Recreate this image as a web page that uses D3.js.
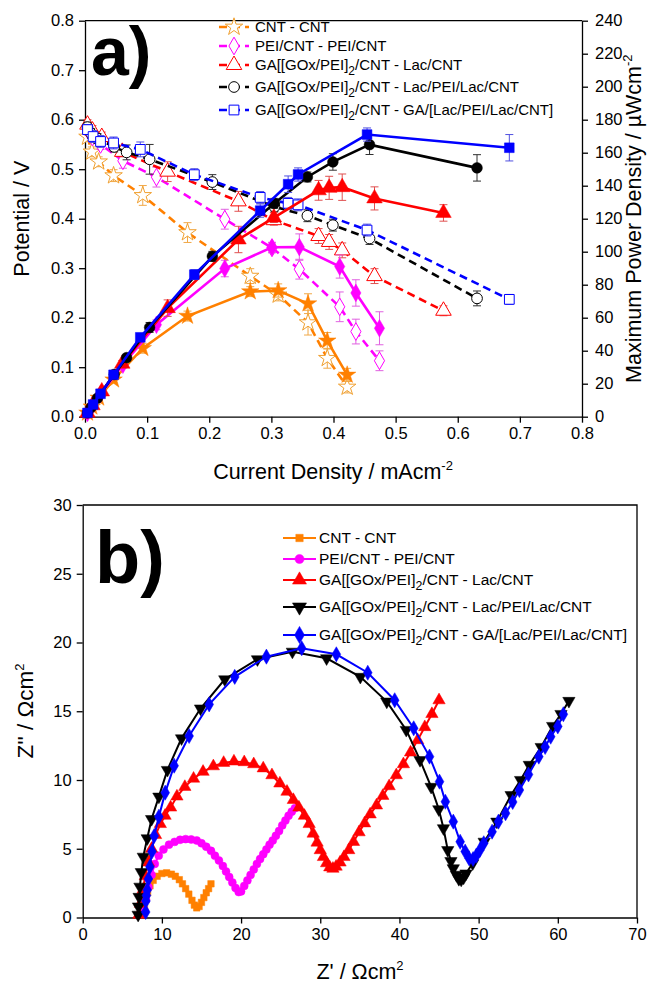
<!DOCTYPE html>
<html><head><meta charset="utf-8">
<script src="https://cdn.jsdelivr.net/npm/d3@7/dist/d3.min.js"></script>
<style>body{margin:0;background:#fff}svg text{font-family:"Liberation Sans",Arial,sans-serif}</style>
</head><body>
<svg id="c" width="648" height="984"></svg>
<script>
// ---------------- DATA: panel a (polarization & power) ----------------
const legendNames = ["CNT - CNT","PEI/CNT - PEI/CNT","GA[[GOx/PEI]_2/CNT - Lac/CNT","GA[[GOx/PEI]_2/CNT - Lac/PEI/Lac/CNT","GA[[GOx/PEI]_2/CNT - GA/[Lac/PEI/Lac/CNT]"];
const colors = ["#ff8000","#ff00ff","#ff0000","#000000","#0000ff"];
const errColors = ["#f0a848","#e060e0","#e05050","#303030","#5050e0"];

const cdCNT = [0.004,0.011,0.022,0.046,0.093,0.165,0.266,0.311,0.359,0.390,0.422];
const vCNT  = [0.565,0.535,0.515,0.487,0.447,0.372,0.284,0.246,0.190,0.118,0.060];
const pCNT  = [2.3,6.0,11.4,22.4,41.5,61.0,75.8,76.5,68.5,46.0,25.3];
const veCNT = [0.008,0.010,0.010,0.012,0.020,0.020,0.015,0.012,0.025,0.020,0.012];
const peCNT = [0.5,1,1.5,2,3,3,3,4,6,5,4];

const cdPEI = [0.004,0.012,0.025,0.061,0.115,0.225,0.301,0.345,0.410,0.436,0.474];
const vPEI  = [0.580,0.565,0.550,0.517,0.484,0.399,0.341,0.298,0.222,0.172,0.113];
const pPEI  = [2.3,6.8,13.8,31.5,55.7,89.8,102.7,102.8,91.0,75.0,53.6];
const vePEI = [0.010,0.010,0.010,0.015,0.020,0.020,0.010,0.020,0.030,0.025,0.020];
const pePEI = [0.5,1,1.5,2,3,5,3,8,7,8,10];

const cdLac = [0.004,0.012,0.027,0.060,0.133,0.247,0.304,0.376,0.393,0.414,0.466,0.577];
const vLac  = [0.590,0.578,0.565,0.535,0.495,0.435,0.397,0.365,0.353,0.336,0.284,0.214];
const pLac  = [2.4,6.9,15.3,32.1,65.8,107.4,120.7,137.2,138.7,139.1,132.3,123.5];
const veLac = [0.010,0.010,0.010,0.010,0.020,0.020,0.010,0.015,0.015,0.015,0.015,0.010];
const peLac = [0.5,1,1.5,2,5,8,3,6,7,8,7,5];

const cdLPL = [0.004,0.010,0.020,0.047,0.067,0.104,0.205,0.305,0.358,0.399,0.458,0.631];
const vLPL  = [0.585,0.572,0.562,0.545,0.534,0.520,0.474,0.424,0.406,0.387,0.360,0.239];
const pLPL  = [2.3,5.7,11.2,25.6,35.8,54.1,97.2,129.3,145.3,154.4,164.9,150.8];
const veLPL = [0.010,0.010,0.010,0.010,0.015,0.030,0.015,0.010,0.012,0.012,0.012,0.015];
const peLPL = [0.5,1,1.5,2,2,3,3,3,3,5,6,8];

const cdGA  = [0.004,0.013,0.025,0.046,0.089,0.176,0.282,0.327,0.343,0.454,0.683];
const vGA   = [0.580,0.566,0.556,0.553,0.540,0.489,0.443,0.431,0.428,0.377,0.237];
const pGA   = [2.3,7.4,13.9,25.4,48.1,86.1,124.9,140.9,146.8,171.0,163.0];
const veGA  = [0.010,0.012,0.012,0.012,0.015,0.012,0.012,0.012,0.012,0.012,0.010];
const peGA  = [0.5,1,1.5,2,2,3,4,5,4,4,8];

const xTicksA = [0,0.1,0.2,0.3,0.4,0.5,0.6,0.7,0.8];
const yTicksA = [0,0.1,0.2,0.3,0.4,0.5,0.6,0.7,0.8];
const yTicksP = [0,20,40,60,80,100,120,140,160,180,200,220,240];

// ---------------- DATA: panel b (Nyquist) ----------------
const zCNT  = [7.6,7.8,8.0,8.2,8.5,8.9,9.4,10.0,10.6,11.2,11.7,12.2,12.6,13.0,13.4,13.8,14.1,14.4,14.7,15.0,15.3,15.6,15.9,16.2];
const zzCNT = [0.3,0.8,1.3,1.8,2.3,2.7,3.0,3.2,3.25,3.15,3.0,2.75,2.45,2.1,1.7,1.25,0.9,0.7,0.8,1.1,1.45,1.8,2.1,2.45];

const zPEI  = [7.8,8.0,8.3,8.7,9.1,9.6,10.2,10.9,11.6,12.3,13.0,13.7,14.4,15.0,15.6,16.2,16.7,17.2,17.7,18.1,18.5,18.9,19.3,19.7,20.0,20.4,20.8,21.2,21.6,22.0,22.4,22.8,23.2,23.6,24.0,24.4,24.8,25.2,25.6,26.0,26.4,26.8];
const zzPEI = [0.5,1.3,2.2,3.1,3.9,4.5,4.95,5.3,5.5,5.65,5.7,5.68,5.6,5.4,5.15,4.85,4.5,4.15,3.75,3.35,2.95,2.55,2.15,1.85,1.9,2.3,2.7,3.1,3.5,3.9,4.25,4.6,4.95,5.3,5.6,5.95,6.3,6.7,7.05,7.4,7.7,7.95];

const zLac  = [7.1,7.3,7.6,7.9,8.3,8.7,9.2,9.8,10.4,11.1,11.9,12.9,14.0,15.2,16.5,17.8,19.1,20.4,21.6,22.8,23.9,24.9,25.8,26.6,27.3,28.0,28.6,29.1,29.6,30.0,30.4,30.8,31.2,31.6,32.0,32.5,33.0,33.6,34.2,34.9,35.6,36.3,37.1,37.9,38.7,39.6,40.5,41.4,42.3,43.2,44.1,45.0];
const zzLac = [0.2,1.0,2.0,3.0,4.0,5.0,6.0,6.8,7.4,8.0,8.8,9.5,10.1,10.6,11.0,11.25,11.35,11.3,11.15,10.85,10.35,9.75,9.15,8.55,8.0,7.4,6.8,6.1,5.45,4.9,4.4,3.95,3.65,3.55,3.7,4.0,4.4,4.9,5.5,6.2,6.85,7.5,8.15,8.85,9.55,10.35,11.15,12.0,12.9,13.85,14.8,15.8];

const zLPL  = [7.0,7.05,7.12,7.23,7.4,7.65,8.15,8.7,9.62,10.7,12.48,14.88,17.94,22.07,26.48,30.8,35.06,38.4,40.86,42.6,44.0,44.97,45.56,46.1,46.5,46.8,47.2,47.5,47.8,48.1,48.4,49.25,50.7,52.3,54.1,55.3,56.4,57.9,59.35,60.4,61.4];
const zzLPL = [0.2,0.8,1.5,2.24,3.3,4.42,5.76,7.16,8.79,10.73,13.03,15.2,17.32,18.78,19.33,18.85,17.5,15.7,13.64,11.45,9.5,7.87,6.49,4.9,4.1,3.58,3.1,2.8,2.75,2.9,3.2,3.94,5.51,6.97,8.9,10.0,11.1,12.4,13.93,14.8,15.75];

const zGA   = [7.95,7.98,8.05,8.15,8.3,8.49,8.75,9.03,9.62,10.42,11.55,13.44,15.97,19.2,23.2,27.66,32.03,36.0,39.4,41.8,43.8,45.06,45.8,46.8,47.67,48.3,48.8,49.3,49.7,50.15,50.65,51.7,52.5,53.4,54.3,55.15,56.3,57.6,58.4,59.1,60.0,60.7];
const zzGA  = [0.4,1.2,1.6,2.0,2.8,3.7,4.8,5.93,7.33,9.08,11.04,13.2,15.5,17.5,18.97,19.58,19.14,17.8,15.8,13.76,11.7,9.88,8.42,6.97,5.51,4.8,4.3,4.25,4.5,4.9,5.4,6.24,6.97,7.58,8.4,9.27,10.4,11.7,12.4,13.15,13.9,14.78];

const xTicksB = [0,10,20,30,40,50,60,70];
const yTicksB = [0,5,10,15,20,25,30];

// ---------------- DRAW ----------------
const svg = d3.select("#c");
const FONT = '"Liberation Sans",Arial,sans-serif';
const TFS = 21.5;   // axis title font size
const KFS = 16.5;   // tick font size

const xA = d3.scaleLinear().domain([0,0.8]).range([85,582]);
const yA = d3.scaleLinear().domain([0,0.8]).range([416.7,20.7]);
const yP = d3.scaleLinear().domain([0,240]).range([416.7,20.7]);
const xB = d3.scaleLinear().domain([0,70]).range([82.7,637]);
const yB = d3.scaleLinear().domain([0,30]).range([917.5,505]);

const symA = [d3.symbolStar, d3.symbolDiamond, d3.symbolTriangle, d3.symbolCircle, d3.symbolSquare];
const sizeA = [95, 90, 105, 90, 95];
const symB = [d3.symbolSquare, d3.symbolCircle, d3.symbolTriangle, d3.symbolTriangle, d3.symbolDiamond];
const sizeB = [42, 50, 66, 66, 66];
const rotB = [0,0,0,180,0];

const seriesA = [
  {cd:cdCNT,v:vCNT,p:pCNT,ve:veCNT,pe:peCNT},
  {cd:cdPEI,v:vPEI,p:pPEI,ve:vePEI,pe:pePEI},
  {cd:cdLac,v:vLac,p:pLac,ve:veLac,pe:peLac},
  {cd:cdLPL,v:vLPL,p:pLPL,ve:veLPL,pe:peLPL},
  {cd:cdGA,v:vGA,p:pGA,ve:veGA,pe:peGA}
];
const seriesB = [
  {z:zCNT,zz:zzCNT},{z:zPEI,zz:zzPEI},{z:zLac,zz:zzLac},{z:zLPL,zz:zzLPL},{z:zGA,zz:zzGA}
];

function styleAxis(g, fs){
  g.selectAll("path,line").attr("stroke","#000").attr("stroke-width",1.3);
  g.selectAll("text").attr("font-family",FONT).attr("font-size",fs).attr("fill","#000");
}

// ----- Panel a axes -----
const fmt1 = d3.format(".1f");
const gxA = svg.append("g").attr("transform","translate(0,416.7)")
  .call(d3.axisBottom(xA).tickValues(xTicksA).tickFormat(fmt1).tickSize(6).tickSizeOuter(0).tickPadding(5));
styleAxis(gxA,KFS);
const gyA = svg.append("g").attr("transform","translate(85,0)")
  .call(d3.axisLeft(yA).tickValues(yTicksA).tickFormat(fmt1).tickSize(6).tickSizeOuter(0).tickPadding(5));
styleAxis(gyA,KFS);
const gyP = svg.append("g").attr("transform","translate(582,0)")
  .call(d3.axisRight(yP).tickValues(yTicksP).tickFormat(d3.format("d")).tickSize(6).tickSizeOuter(0).tickPadding(7));
styleAxis(gyP,KFS);
svg.append("line").attr("x1",85).attr("x2",582).attr("y1",20.7).attr("y2",20.7).attr("stroke","#000").attr("stroke-width",1.3);

// titles panel a
svg.append("text").attr("transform","translate(29,218.7) rotate(-90)").attr("text-anchor","middle")
  .attr("font-size",TFS).text("Potential / V");
const tR = svg.append("text").attr("transform","translate(641,218.7) rotate(-90)").attr("text-anchor","middle").attr("font-size",TFS);
tR.append("tspan").text("Maximum Power Density / \u00b5Wcm");
tR.append("tspan").attr("dy",-9).attr("font-size",13).text("-2");
const tX = svg.append("text").attr("x",333).attr("y",479).attr("text-anchor","middle").attr("font-size",TFS);
tX.append("tspan").text("Current Density / mAcm");
tX.append("tspan").attr("dy",-9).attr("font-size",13).text("-2");

svg.append("text").attr("x",91).attr("y",75).attr("font-family",'"Liberation Serif","Times New Roman",serif')
  .attr("font-weight","bold").attr("font-size",68).text("a)");

// ----- Panel a data -----
const gA = svg.append("g");
function errBars(g, xs, ys, es, xsc, ysc, col){
  xs.forEach((x,i)=>{
    const px = xsc(x), y1 = ysc(ys[i]-es[i]), y2 = ysc(ys[i]+es[i]);
    g.append("line").attr("x1",px).attr("x2",px).attr("y1",y1).attr("y2",y2).attr("stroke",col).attr("stroke-width",1);
    [y1,y2].forEach(yy=>g.append("line").attr("x1",px-4).attr("x2",px+4).attr("y1",yy).attr("y2",yy).attr("stroke",col).attr("stroke-width",1));
  });
}
seriesA.forEach((s,k)=>{
  const pts = s.cd.map((c,i)=>[c,s.v[i]]);
  errBars(gA, s.cd, s.v, s.ve, xA, yA, errColors[k]);
  gA.append("path").attr("d", d3.line().x(d=>xA(d[0])).y(d=>yA(d[1]))(pts))
    .attr("fill","none").attr("stroke",colors[k]).attr("stroke-width",2.6).attr("stroke-dasharray","8,5");
  gA.selectAll(null).data(pts).enter().append("path")
    .attr("transform",d=>`translate(${xA(d[0])},${yA(d[1])})`)
    .attr("d", d3.symbol().type(symA[k]).size(sizeA[k]))
    .attr("fill","#fff").attr("stroke",k===0?"#f0a030":colors[k]).attr("stroke-width",1);
});
seriesA.forEach((s,k)=>{
  const pts = s.cd.map((c,i)=>[c,s.p[i]]);
  errBars(gA, s.cd, s.p, s.pe, xA, yP, errColors[k]);
  gA.append("path").attr("d", d3.line().x(d=>xA(d[0])).y(d=>yP(d[1]))(pts))
    .attr("fill","none").attr("stroke",colors[k]).attr("stroke-width",2.6);
  gA.selectAll(null).data(pts).enter().append("path")
    .attr("transform",d=>`translate(${xA(d[0])},${yP(d[1])})`)
    .attr("d", d3.symbol().type(symA[k]).size(sizeA[k]))
    .attr("fill",colors[k]).attr("stroke",colors[k]).attr("stroke-width",0.5);
});

function legendText(g, x, y, name, fs){
  const t = g.append("text").attr("x",x).attr("y",y).attr("font-size",fs);
  const parts = name.split("_2");
  t.append("tspan").text(parts[0]);
  if(parts.length>1){
    t.append("tspan").attr("dy",5).attr("font-size",fs*0.8).text("2");
    t.append("tspan").attr("dy",-5).text(parts[1]);
  }
}
// legend a
const legYA = [32, 51, 70, 92, 115];
legendNames.forEach((n,k)=>{
  const y = legYA[k];
  gA.append("line").attr("x1",219).attr("x2",249).attr("y1",y-5).attr("y2",y-5)
    .attr("stroke",colors[k]).attr("stroke-width",2.6).attr("stroke-dasharray","8,5");
  gA.append("path").attr("transform",`translate(234,${y-5})`)
    .attr("d", d3.symbol().type(symA[k]).size(sizeA[k]))
    .attr("fill","#fff").attr("stroke",k===0?"#f0a030":colors[k]).attr("stroke-width",1);
  legendText(gA, 255, y, n, 15);
});

// ----- Panel b axes -----
const gxB = svg.append("g").attr("transform","translate(0,917.5)")
  .call(d3.axisBottom(xB).tickValues(xTicksB).tickFormat(d3.format("d")).tickSize(6).tickSizeOuter(0).tickPadding(5));
styleAxis(gxB,KFS);
const gyB = svg.append("g").attr("transform","translate(82.7,0)")
  .call(d3.axisLeft(yB).tickValues(yTicksB).tickFormat(d3.format("d")).tickSize(6).tickSizeOuter(0).tickPadding(5));
styleAxis(gyB,KFS);
svg.append("path").attr("d","M82.7,505H637V917.5").attr("fill","none").attr("stroke","#000").attr("stroke-width",1.3);

const tYB = svg.append("text").attr("transform","translate(33,711) rotate(-90)").attr("text-anchor","middle").attr("font-size",TFS+1);
tYB.append("tspan").text("Z'' / \u03a9cm");
tYB.append("tspan").attr("dy",-9).attr("font-size",13).text("2");
const tXB = svg.append("text").attr("x",360).attr("y",979).attr("text-anchor","middle").attr("font-size",TFS);
tXB.append("tspan").text("Z' / \u03a9cm");
tXB.append("tspan").attr("dy",-9).attr("font-size",13).text("2");

svg.append("text").attr("x",95).attr("y",583).attr("font-family",'"Liberation Serif","Times New Roman",serif')
  .attr("font-weight","bold").attr("font-size",74).text("b)");

const gB = svg.append("g");
seriesB.forEach((s,k)=>{
  const pts = s.z.map((z,i)=>[z,s.zz[i]]);
  gB.append("path").attr("d", d3.line().x(d=>xB(d[0])).y(d=>yB(d[1]))(pts))
    .attr("fill","none").attr("stroke",colors[k]).attr("stroke-width",2);
  gB.selectAll(null).data(pts).enter().append("path")
    .attr("transform",d=>`translate(${xB(d[0])},${yB(d[1])}) rotate(${rotB[k]})`)
    .attr("d", d3.symbol().type(symB[k]).size(sizeB[k]))
    .attr("fill",colors[k]).attr("stroke",colors[k]).attr("stroke-width",0.5);
});
// legend b
const legYB = [543, 564, 585, 612, 640];
legendNames.forEach((n,k)=>{
  const y = legYB[k];
  gB.append("line").attr("x1",283).attr("x2",316).attr("y1",y-5).attr("y2",y-5)
    .attr("stroke",colors[k]).attr("stroke-width",2);
  gB.append("path").attr("transform",`translate(299.5,${y-5}) rotate(${rotB[k]})`)
    .attr("d", d3.symbol().type(symB[k]).size(sizeB[k]*1.3))
    .attr("fill",colors[k]).attr("stroke",colors[k]).attr("stroke-width",0.5);
  legendText(gB, 319, y, n, 15.5);
});
</script>
</body></html>
